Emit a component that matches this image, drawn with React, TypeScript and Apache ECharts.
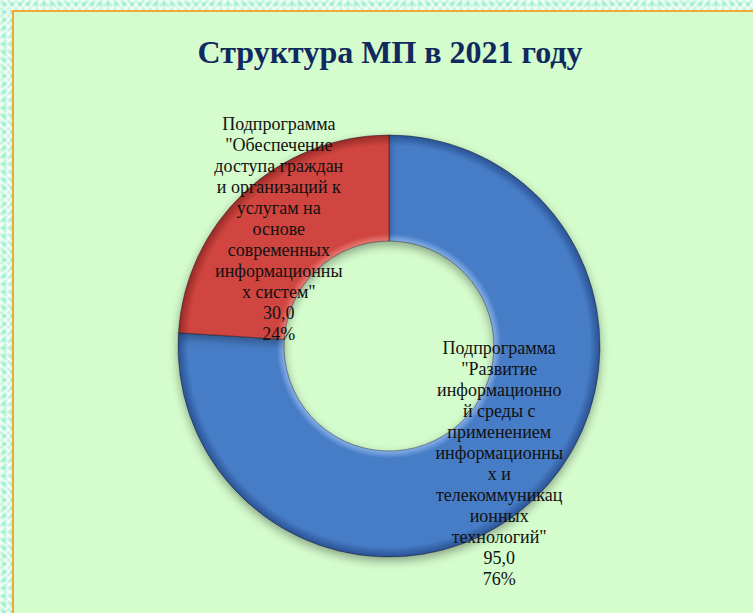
import React, { useEffect, useRef } from "react";
import * as echarts from "echarts";

const title = "Структура МП в 2021 году";

const categories = [
  'Подпрограмма "Развитие информационной среды с применением информационных и телекоммуникационных технологий"',
  'Подпрограмма "Обеспечение доступа граждан и организаций к услугам на основе современных информационных систем"',
];

const values = [95.0, 30.0];

// label wrapping as in the reference
const labelLines = [
  [
    "Подпрограмма",
    '"Развитие',
    "информационно",
    "й среды с",
    "применением",
    "информационны",
    "х и",
    "телекоммуникац",
    "ионных",
    'технологий"',
  ],
  [
    "Подпрограмма",
    '"Обеспечение',
    "доступа граждан",
    "и организаций к",
    "услугам на",
    "основе",
    "современных",
    "информационны",
    'х систем"',
  ],
];

const CX = 389;
const CY = 346;
const R_OUT = 211;
const R_IN = 105;

function bevel(light: string, base: string, dark: string) {
  const inner = R_IN / R_OUT;
  return {
    type: "radial",
    x: CX,
    y: CY,
    r: R_OUT,
    global: true,
    colorStops: [
      { offset: 0, color: light },
      { offset: inner, color: light },
      { offset: inner + 0.035, color: base },
      { offset: 0.95, color: base },
      { offset: 1, color: dark },
    ],
  };
}

const sliceColors = [
  bevel("#86afe6", "#477dc7", "#2a5293"),
  bevel("#e87a74", "#d0453f", "#972a26"),
];

export default function App() {
  const ref = useRef<HTMLDivElement>(null);

  useEffect(() => {
    document.body.style.margin = "0";
    if (!ref.current) return;
    const chart = echarts.init(ref.current, undefined, { renderer: "svg" });
    chart.setOption({
      animation: false,
      backgroundColor: "transparent",
      graphic: [
        {
          type: "text",
          x: CX + 1,
          y: 36,
          style: {
            text: title,
            textAlign: "center",
            textVerticalAlign: "top",
            fontFamily: "Liberation Serif",
            fontWeight: "bold",
            fontSize: 32,
            fill: "#10295f",
          },
        },
      ],
      series: [
        {
          type: "pie",
          center: [CX, CY],
          radius: [R_IN, R_OUT],
          startAngle: 90,
          clockwise: true,
          avoidLabelOverlap: false,
          emphasis: { disabled: true },
          itemStyle: {
            borderColor: "rgba(20,20,40,0.55)",
            borderWidth: 0.8,
            shadowBlur: 10,
            shadowColor: "rgba(0,0,0,0.35)",
            shadowOffsetY: 4,
          },
          label: {
            show: true,
            position: "inside",
            fontFamily: "Liberation Serif",
            fontSize: 18,
            lineHeight: 21,
            color: "#111",
            align: "center",
            formatter: (p: any) => {
              const lines = labelLines[p.dataIndex];
              const v = Number(p.value).toFixed(1).replace(".", ",");
              return [...lines, v, Math.round(p.percent) + "%"].join("\n");
            },
          },
          labelLine: { show: false },
          data: categories.map((name, i) => ({
            name,
            value: values[i],
            itemStyle: { color: sliceColors[i] },
          })),
        },
      ],
    });
    return () => chart.dispose();
  }, []);

  return (
    <div
      style={{
        position: "relative",
        width: 753,
        height: 613,
        overflow: "hidden",
        backgroundColor: "#c8f7e0",
        backgroundImage:
          "radial-gradient(circle at 50% 50%, #a9f0d2 0 2px, transparent 2.5px), repeating-linear-gradient(45deg, rgba(255,255,255,0.55) 0 2px, transparent 2px 5px), repeating-linear-gradient(-45deg, rgba(255,255,255,0.55) 0 2px, transparent 2px 5px)",
        backgroundSize: "8px 8px, auto, auto",
      }}
    >
      <div
        style={{
          position: "absolute",
          left: 12,
          top: 10,
          width: 753 - 12,
          height: 613 - 10,
          boxSizing: "border-box",
          borderLeft: "2px solid #f2a73b",
          borderTop: "2px solid #f2a73b",
          backgroundColor: "#d4fccc",
        }}
      />
      <div
        ref={ref}
        style={{ position: "absolute", left: 0, top: 0, width: 753, height: 613 }}
      />
    </div>
  );
}
